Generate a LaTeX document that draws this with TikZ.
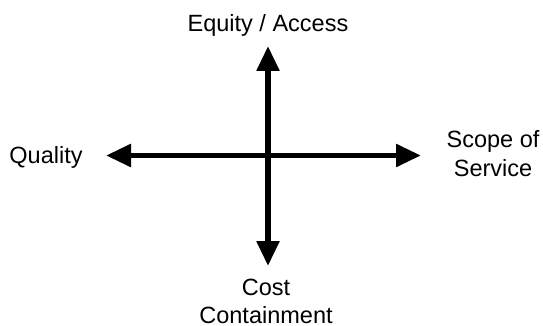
\documentclass[tikz,border=0pt]{standalone}
\usepackage{fontspec}
\setmainfont{Liberation Sans}
\usetikzlibrary{arrows.meta}
\begin{document}
\begin{tikzpicture}[x=1pt,y=-1pt,
  axis/.style={line width=5.5pt,-{Triangle[length=25pt,width=22pt]}},
  lbl/.style={font=\fontsize{23.5}{28.5}\selectfont,align=center,inner sep=0pt,anchor=base}]
  \useasboundingbox (0,0) rectangle (543,326);
  \coordinate (o) at (268,155.5);
  \coordinate (n) at (268,46);
  \coordinate (s) at (268,266);
  \coordinate (w) at (106,155.5);
  \coordinate (e) at (421,155.5);
  \draw[axis] (o) -- (n);
  \draw[axis] (o) -- (s);
  \draw[axis] (o) -- (w);
  \draw[axis] (o) -- (e);
  % for two-line labels the base anchor sits on the last line
  \node[lbl] (eq) at (268,32) {Equity / Access};
  \node[lbl] (ql) at (46,163) {Quality};
  \node[lbl] (sc) at (493,176) {Scope of\\Service};
  \node[lbl] (ct) at (266,323.5) {Cost\\Containment};
\end{tikzpicture}
\end{document}
